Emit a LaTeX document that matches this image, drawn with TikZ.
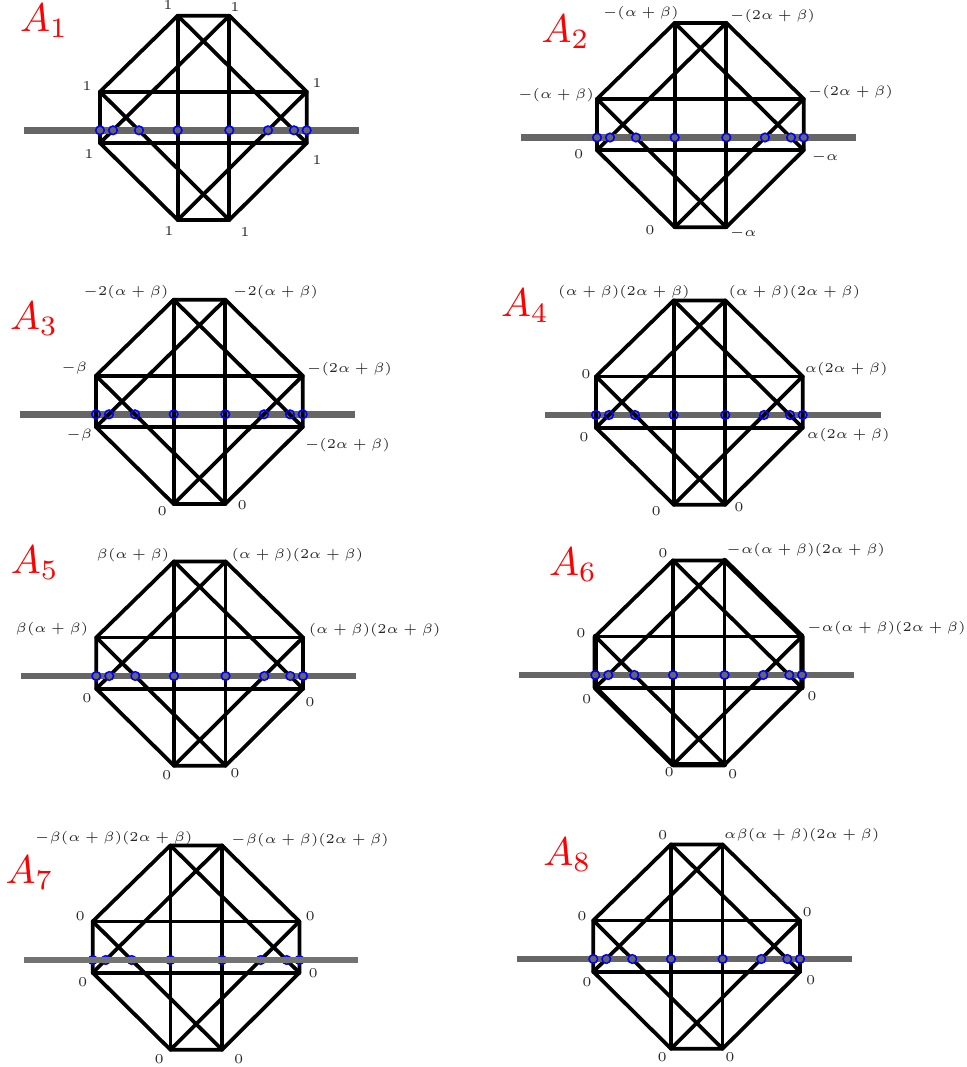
\documentclass[tikz,border=0pt]{standalone}
\usepackage{amsmath}
\tikzset{
  edge/.style={line width=2.8pt,line join=round,line cap=round},
  thickedge/.style={line width=3.9pt,line join=round,line cap=round},
  axisline/.style={line width=4.8pt,black!60},
  ringdot/.style={circle,draw=blue,line width=1.2pt,inner sep=0pt,minimum size=6.4pt},
  vlabel/.style={font=\tiny,scale=2.03,inner sep=0pt,text=black!85},
  panelname/.style={anchor=base west,scale=3,inner sep=0pt,text=red},
}

\begin{document}
\begin{tikzpicture}[x=0.75pt,y=-0.75pt]
\useasboundingbox (0,0) rectangle (967,1067);
% 八边形顶点与灰线端点
\foreach \n/\ox/\oy/\la/\lb in {1/0/0/24/359,2/497/7.2/521/855.7,3/-4/284/20/355,4/496/284.7/545/880.7,5/-3.7/545.7/20.7/355.7,6/495.3/544.7/519.3/854,7/-7.3/829.7/24/357.7,8/493.3/828.7/517.3/851.7}{
  \coordinate (A\n-l) at (\la,{130.3+\oy});
  \coordinate (A\n-r) at (\lb,{130.3+\oy});
  \begin{scope}[shift={(\ox,\oy)}]
    \coordinate (A\n-a) at (177.7,15.7);
    \coordinate (A\n-b) at (229.3,15.7);
    \coordinate (A\n-c) at (306.7,91.7);
    \coordinate (A\n-d) at (306.7,143);
    \coordinate (A\n-e) at (229.3,220);
    \coordinate (A\n-f) at (177.7,220);
    \coordinate (A\n-g) at (100,143);
    \coordinate (A\n-h) at (100,91.7);
    \foreach \k/\x in {1/100,2/113,3/139,4/177.7,5/229.3,6/268,7/294,8/306.7}{
      \coordinate (A\n-q\k) at (\x,130.3);
    }
  \end{scope}
}
% A3, A4 的灰线在黑线之下
\foreach \n in {3,4}{
  \draw[axisline] (A\n-l) -- (A\n-r);
}
% 八边形与内部连线
\foreach \n in {1,...,8}{
  \draw[edge] (A\n-a) -- (A\n-b) -- (A\n-c) -- (A\n-d) -- (A\n-e) -- (A\n-f) -- (A\n-g) -- (A\n-h) -- cycle;
  \draw[edge] (A\n-h) -- (A\n-c);
  \draw[edge] (A\n-g) -- (A\n-d);
  \draw[edge] (A\n-a) -- (A\n-f);
  \draw[edge] (A\n-b) -- (A\n-e);
  \draw[edge] (A\n-a) -- (A\n-d);
  \draw[edge] (A\n-b) -- (A\n-g);
  \draw[edge] (A\n-h) -- (A\n-e);
  \draw[edge] (A\n-c) -- (A\n-f);
}
% A6 的粗边
\draw[thickedge] (A6-b) -- (A6-c) -- (A6-d);
\draw[thickedge] (A6-h) -- (A6-g) -- (A6-f) -- (A6-e);
% 其余的灰线
\foreach \n in {1,2,5,6,8}{
  \draw[axisline] (A\n-l) -- (A\n-r);
}
% 蓝色小圆
\foreach \n in {1,...,8}{
  \foreach \k in {1,...,8}{
    \node[ringdot] (A\n-p\k) at (A\n-q\k) {};
  }
}
% A7 的灰线盖住小圆
\draw[axisline,line width=3.9pt,black!55] (A7-l) -- (A7-r);
% 名称
\node[panelname] (T1) at (19.2,31.7) {$A_1$};
\node[panelname] (T2) at (540.8,42.3) {$A_2$};
\node[panelname] (T3) at (9.2,329.3) {$A_3$};
\node[panelname] (T4) at (500.2,316.7) {$A_4$};
\node[panelname] (T5) at (10.2,573.3) {$A_5$};
\node[panelname] (T6) at (548.2,575.7) {$A_6$};
\node[panelname] (T7) at (4.8,883.3) {$A_7$};
\node[panelname] (T8) at (542.5,865) {$A_8$};
% A1 的标记
\node[vlabel] (A1-ta) at (168,5) {$1$};
\node[vlabel] (A1-tb) at (235,7) {$1$};
\node[vlabel] (A1-tc) at (317,83) {$1$};
\node[vlabel] (A1-td) at (317,160) {$1$};
\node[vlabel] (A1-te) at (245,232) {$1$};
\node[vlabel] (A1-tf) at (169,231) {$1$};
\node[vlabel] (A1-tg) at (89,154) {$1$};
\node[vlabel] (A1-th) at (87,86) {$1$};
% A2 的标记
\node[vlabel] (A2-ta) at (640.7,12.7) {$-(\alpha+\beta)$};
\node[vlabel] (A2-tb) at (772.5,15.7) {$-(2\alpha+\beta)$};
\node[vlabel] (A2-tc) at (850.3,92.3) {$-(2\alpha+\beta)$};
\node[vlabel] (A2-td) at (825,156.7) {$-\alpha$};
\node[vlabel] (A2-te) at (743.3,232.7) {$-\alpha$};
\node[vlabel] (A2-tf) at (650,230) {$0$};
\node[vlabel] (A2-tg) at (578.7,153.7) {$0$};
\node[vlabel] (A2-th) at (556,95) {$-(\alpha+\beta)$};
% A3 的标记
\node[vlabel] (A3-ta) at (126,292.3) {$-2(\alpha+\beta)$};
\node[vlabel] (A3-tb) at (275.5,292.3) {$-2(\alpha+\beta)$};
\node[vlabel] (A3-tc) at (349.5,369) {$-(2\alpha+\beta)$};
\node[vlabel] (A3-td) at (347.3,445) {$-(2\alpha+\beta)$};
\node[vlabel] (A3-te) at (242.3,505) {$0$};
\node[vlabel] (A3-tf) at (162.3,510.7) {$0$};
\node[vlabel] (A3-tg) at (79.3,435) {$-\beta$};
\node[vlabel] (A3-th) at (74.3,368.3) {$-\beta$};
% A4 的标记
\node[vlabel] (A4-ta) at (624,291.7) {$(\alpha+\beta)(2\alpha+\beta)$};
\node[vlabel] (A4-tb) at (794.3,292.3) {$(\alpha+\beta)(2\alpha+\beta)$};
\node[vlabel] (A4-tc) at (846.2,369) {$\alpha(2\alpha+\beta)$};
\node[vlabel] (A4-td) at (848.3,435) {$\alpha(2\alpha+\beta)$};
\node[vlabel] (A4-te) at (739,507) {$0$};
\node[vlabel] (A4-tf) at (656.3,511) {$0$};
\node[vlabel] (A4-tg) at (584,437) {$0$};
\node[vlabel] (A4-th) at (586,373.7) {$0$};
% A5 的标记
\node[vlabel] (A5-ta) at (133,555) {$\beta(\alpha+\beta)$};
\node[vlabel] (A5-tb) at (297.3,555) {$(\alpha+\beta)(2\alpha+\beta)$};
\node[vlabel] (A5-tc) at (374.7,629.7) {$(\alpha+\beta)(2\alpha+\beta)$};
\node[vlabel] (A5-td) at (310,701.7) {$0$};
\node[vlabel] (A5-te) at (235,772.7) {$0$};
\node[vlabel] (A5-tf) at (166.7,775) {$0$};
\node[vlabel] (A5-tg) at (87,697.7) {$0$};
\node[vlabel] (A5-th) at (52,629) {$\beta(\alpha+\beta)$};
% A6 的标记
\node[vlabel] (A6-ta) at (663,552.7) {$0$};
\node[vlabel] (A6-tb) at (805.7,550) {$-\alpha(\alpha+\beta)(2\alpha+\beta)$};
\node[vlabel] (A6-tc) at (886.3,628.3) {$-\alpha(\alpha+\beta)(2\alpha+\beta)$};
\node[vlabel] (A6-td) at (812,695.7) {$0$};
\node[vlabel] (A6-te) at (732.7,774) {$0$};
\node[vlabel] (A6-tf) at (669.3,771.7) {$0$};
\node[vlabel] (A6-tg) at (586.7,699) {$0$};
\node[vlabel] (A6-th) at (581,633.3) {$0$};
% A7 的标记
\node[vlabel] (A7-ta) at (113.7,838.3) {$-\beta(\alpha+\beta)(2\alpha+\beta)$};
\node[vlabel] (A7-tb) at (310,840) {$-\beta(\alpha+\beta)(2\alpha+\beta)$};
\node[vlabel] (A7-tc) at (310.3,916) {$0$};
\node[vlabel] (A7-td) at (313.3,972.7) {$0$};
\node[vlabel] (A7-te) at (238.7,1058.7) {$0$};
\node[vlabel] (A7-tf) at (159.3,1058.7) {$0$};
\node[vlabel] (A7-tg) at (82.7,982) {$0$};
\node[vlabel] (A7-th) at (80.3,916) {$0$};
% A8 的标记
\node[vlabel] (A8-ta) at (662.7,835) {$0$};
\node[vlabel] (A8-tb) at (801.8,835) {$\alpha\beta(\alpha+\beta)(2\alpha+\beta)$};
\node[vlabel] (A8-tc) at (807.3,911.7) {$0$};
\node[vlabel] (A8-td) at (810.7,980) {$0$};
\node[vlabel] (A8-te) at (730,1057.3) {$0$};
\node[vlabel] (A8-tf) at (662.3,1057.3) {$0$};
\node[vlabel] (A8-tg) at (587,982) {$0$};
\node[vlabel] (A8-th) at (582,916) {$0$};
\end{tikzpicture}
\end{document}
